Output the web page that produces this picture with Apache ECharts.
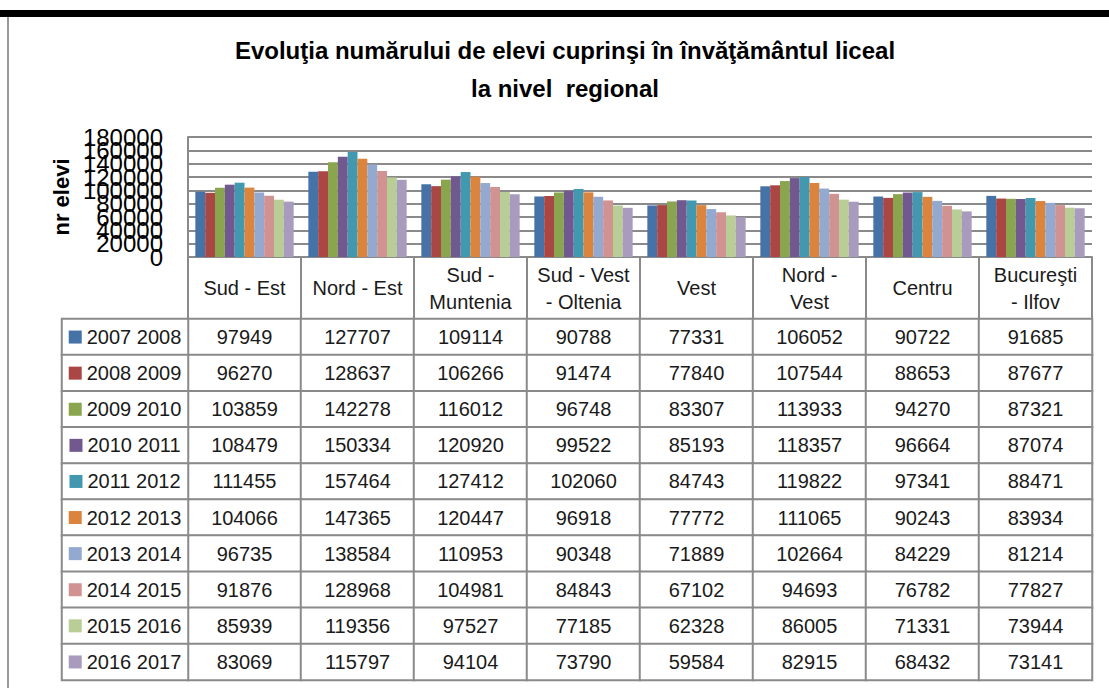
<!DOCTYPE html>
<html>
<head>
<meta charset="utf-8">
<script src="https://cdn.jsdelivr.net/npm/echarts/dist/echarts.min.js"></script>
<style>
  html, body { margin: 0; padding: 0; background: #fff; }
  #chart { width: 1109px; height: 688px; }
</style>
</head>
<body>
<div id="chart"></div>
<script>
// regiuni si ani scolari
var regiuni = ['Sud - Est', 'Nord - Est', 'Sud -\nMuntenia', 'Sud - Vest\n- Oltenia', 'Vest', 'Nord -\nVest', 'Centru', 'Bucureşti\n- Ilfov'];
var aniScolari = ['2007 2008', '2008 2009', '2009 2010', '2010 2011', '2011 2012', '2012 2013', '2013 2014', '2014 2015', '2015 2016', '2016 2017'];

// nr elevi pe regiuni, cate un sir pe an scolar
var elevi2007 = [97949, 127707, 109114, 90788, 77331, 106052, 90722, 91685];
var elevi2008 = [96270, 128637, 106266, 91474, 77840, 107544, 88653, 87677];
var elevi2009 = [103859, 142278, 116012, 96748, 83307, 113933, 94270, 87321];
var elevi2010 = [108479, 150334, 120920, 99522, 85193, 118357, 96664, 87074];
var elevi2011 = [111455, 157464, 127412, 102060, 84743, 119822, 97341, 88471];
var elevi2012 = [104066, 147365, 120447, 96918, 77772, 111065, 90243, 83934];
var elevi2013 = [96735, 138584, 110953, 90348, 71889, 102664, 84229, 81214];
var elevi2014 = [91876, 128968, 104981, 84843, 67102, 94693, 76782, 77827];
var elevi2015 = [85939, 119356, 97527, 77185, 62328, 86005, 71331, 73944];
var elevi2016 = [83069, 115797, 94104, 73790, 59584, 82915, 68432, 73141];

var toateSerii = [elevi2007, elevi2008, elevi2009, elevi2010, elevi2011, elevi2012, elevi2013, elevi2014, elevi2015, elevi2016];

// etichetele de pe axa y care ies pe a doua axa (altfel echarts le ascunde langa min/max)
var eticheteSecundare = [20000, 160000];

var culori = ['#4572A7', '#AA4643', '#89A54E', '#71588F', '#4198AF', '#DB843D', '#93A9CF', '#D19392', '#B9CD96', '#A99BBD'];

var font = "'Liberation Sans', Arial, sans-serif";
var gri = '#8a8a8a';

var myChart = echarts.init(document.getElementById('chart'), null, { renderer: 'svg' });

var series = [];
toateSerii.forEach(function (sir, i) {
  series.push({
    name: aniScolari[i],
    type: 'bar',
    xAxisIndex: 0,
    yAxisIndex: 0,
    data: sir,
    barGap: '0%',
    barCategoryGap: '13%',
    itemStyle: { color: culori[i] }
  });
});

// celulele tabelului
var celule = [];
toateSerii.forEach(function (sir, j) {
  sir.forEach(function (v, i) {
    celule.push([i, j, v]);
  });
});
series.push({
  type: 'heatmap',
  xAxisIndex: 1,
  yAxisIndex: 1,
  data: celule,
  itemStyle: { color: '#fff', borderColor: gri, borderWidth: 2 },
  label: { show: true, fontSize: 20, fontFamily: font, color: '#1a1a1a', formatter: function (p) { return p.value[2]; } },
  emphasis: { disabled: true }
});

// coloana cu legenda
var rich = { t: { fontSize: 20, fontFamily: font, color: '#1a1a1a', padding: [0, 0, 0, 5] } };
culori.forEach(function (c, i) {
  rich['c' + i] = { width: 13, height: 13, backgroundColor: c };
});
var legendaCelule = aniScolari.map(function (a, j) { return [0, j, j]; });
series.push({
  type: 'heatmap',
  xAxisIndex: 2,
  yAxisIndex: 2,
  data: legendaCelule,
  itemStyle: { color: '#fff', borderColor: gri, borderWidth: 2 },
  label: {
    show: true,
    formatter: function (p) { return '{c' + p.value[1] + '|}{t|' + aniScolari[p.value[1]] + '}'; },
    rich: rich
  },
  emphasis: { disabled: true }
});

var etichetaY = { margin: 25, fontSize: 24, fontFamily: font, color: '#000', hideOverlap: false };

var option = {
  animation: false,
  backgroundColor: '#fff',
  title: {
    text: 'Evoluţia numărului de elevi cuprinşi în învăţământul liceal\nla nivel  regional',
    left: 565,
    textAlign: 'center',
    top: 31,
    padding: 0,
    textStyle: { fontFamily: font, fontSize: 24, fontWeight: 'bold', color: '#000', lineHeight: 38 }
  },
  graphic: [
    { type: 'rect', shape: { x: 0, y: 10, width: 1109, height: 7 }, style: { fill: '#000' } },
    { type: 'line', shape: { x1: 8, y1: 17, x2: 8, y2: 688 }, style: { stroke: '#999', lineWidth: 2 } }
  ],
  visualMap: { show: false, seriesIndex: [10, 11], min: 0, max: 200000, inRange: { color: ['#ffffff', '#ffffff'] } },
  grid: [
    { left: 188, width: 904, top: 137, height: 120 },
    { left: 188, width: 904, top: 319, height: 361 },
    { left: 62, width: 126, top: 319, height: 361 }
  ],
  xAxis: [
    {
      gridIndex: 0,
      type: 'category',
      data: regiuni,
      axisLine: { show: true, lineStyle: { color: gri, width: 2 } },
      axisTick: { show: true, interval: 0, length: 62, lineStyle: { color: gri, width: 2 } },
      axisLabel: { interval: 0, margin: 31, verticalAlign: 'middle', fontSize: 20, lineHeight: 27, fontFamily: font, color: '#1a1a1a' }
    },
    { gridIndex: 1, type: 'category', data: regiuni, show: false },
    { gridIndex: 2, type: 'category', data: [''], show: false }
  ],
  yAxis: [
    {
      gridIndex: 0,
      type: 'value',
      min: 0,
      max: 180000,
      interval: 20000,
      name: 'nr elevi',
      nameLocation: 'middle',
      nameRotate: 90,
      nameGap: 104,
      nameTextStyle: { fontFamily: font, fontSize: 22, fontWeight: 'bold', color: '#000' },
      axisLine: { show: true, lineStyle: { color: gri, width: 2 } },
      axisTick: { show: false },
      axisLabel: Object.assign({}, etichetaY, {
        showMinLabel: true, showMaxLabel: true,
        formatter: function (v) { return eticheteSecundare.indexOf(v) >= 0 ? '' : String(v); }
      }),
      splitLine: { show: true, lineStyle: { color: gri, width: 2 } }
    },
    { gridIndex: 1, type: 'category', data: aniScolari, inverse: true, show: false },
    { gridIndex: 2, type: 'category', data: aniScolari, inverse: true, show: false },
    {
      gridIndex: 0,
      type: 'value',
      position: 'left',
      min: 0,
      max: 180000,
      interval: 20000,
      axisLine: { show: false },
      axisTick: { show: false },
      splitLine: { show: false },
      axisLabel: Object.assign({}, etichetaY, {
        showMinLabel: false, showMaxLabel: false,
        formatter: function (v) { return eticheteSecundare.indexOf(v) >= 0 ? String(v) : ''; }
      })
    }
  ],
  series: series
};

myChart.setOption(option);
</script>
</body>
</html>
